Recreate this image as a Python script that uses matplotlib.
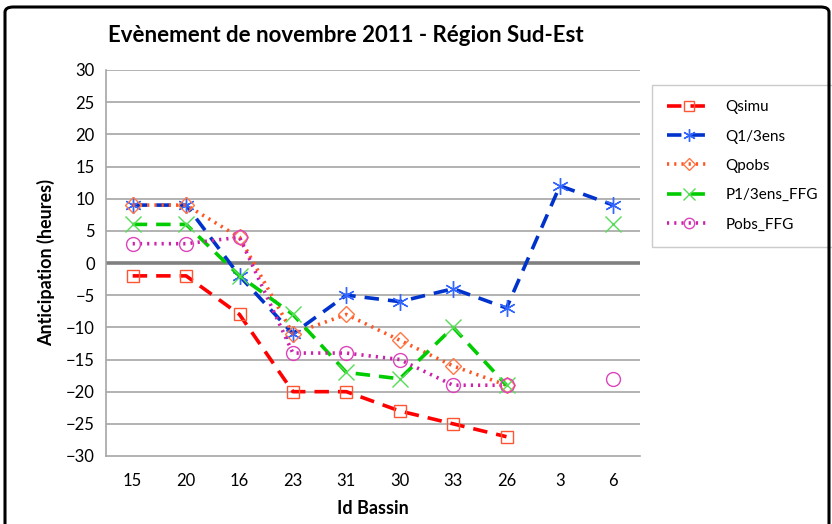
import numpy as np
import matplotlib
matplotlib.use("Agg")
import matplotlib.pyplot as plt
from matplotlib.patches import FancyBboxPatch

plt.rcParams['font.family'] = ['Lato', 'DejaVu Sans']

bassins = ["15", "20", "16", "23", "31", "30", "33", "26", "3", "6"]
nan = np.nan
qsimu = [-2, -2, -8, -20, -20, -23, -25, -27, nan, nan]
q13ens = [9, 9, -2, -11, -5, -6, -4, -7, 12, 9]
qpobs = [9, 9, 4, -11, -8, -12, -16, -19, nan, nan]
p13ens_ffg = [6, 6, -2, -8, -17, -18, -10, -19, nan, 6]
pobs_ffg = [3, 3, 4, -14, -14, -15, -19, -19, nan, -18]
y_ticks = list(range(-30, 35, 5))

fig = plt.figure(figsize=(8.32, 5.24), dpi=100)
ax = fig.add_axes([106 / 832, 1 - 456 / 524, 534 / 832, 386 / 524])

x = np.arange(len(bassins))

series = [
    ("Qsimu", qsimu, dict(color="#FF0000", ls=(0, (4, 2.5)), lw=2.6, marker="s", ms=9,
                          mfc="none", mec="#FF5533", mew=1.0)),
    ("Q1/3ens", q13ens, dict(color="#0033CC", ls=(0, (4, 2.5)), lw=2.6, marker=(6, 2, 0), ms=12,
                             mfc="none", mec="#3366FF", mew=1.0)),
    ("Qpobs", qpobs, dict(color="#FF5522", ls=(0, (0.6, 1.4)), lw=2.6, marker="D", ms=8,
                          mfc="none", mec="#FF7744", mew=1.0)),
    ("P1/3ens_FFG", p13ens_ffg, dict(color="#00CC00", ls=(0, (4, 2.5)), lw=2.6, marker="x", ms=11,
                                     mfc="none", mec="#55DD55", mew=1.0)),
    ("Pobs_FFG", pobs_ffg, dict(color="#CC22AA", ls=(0, (0.6, 1.4)), lw=2.6, marker="o", ms=10,
                                mfc="none", mec="#DD44BB", mew=1.0)),
]

for name, vals, style in series:
    ax.plot(x, vals, label=name, dash_capstyle="butt", **style)

ax.set_xlim(-0.5, len(bassins) - 0.5)
ax.set_ylim(-30, 30)
ax.set_yticks(y_ticks)
ax.set_xticks(x)
ax.set_xticklabels(bassins)
ax.tick_params(axis="both", length=0, labelsize=12, pad=8)
ax.tick_params(axis="x", pad=12)

for v in y_ticks:
    if v == 0:
        ax.axhline(v, color="#808080", lw=2.6, zorder=0.6)
    elif v != -30:
        ax.axhline(v, color="#A6A6A6", lw=1.2, zorder=0.5)

for s in ["top", "right"]:
    ax.spines[s].set_visible(False)
for s in ["left", "bottom"]:
    ax.spines[s].set_color("#A6A6A6")
    ax.spines[s].set_linewidth(1.2)

ax.set_ylabel("Anticipation (heures)", fontsize=13, fontweight="bold", labelpad=8)
ax.set_xlabel("Id Bassin", fontsize=13, fontweight="bold", labelpad=8)

fig.text(108 / 832, 1 - 35 / 524, "Evènement de novembre 2011 - Région Sud-Est",
         fontsize=16, fontweight="bold", va="center", ha="left")

leg = ax.legend(loc="upper left", bbox_to_anchor=(652 / 832, 1 - 85 / 524),
                bbox_transform=fig.transFigure, frameon=True, fancybox=False,
                fontsize=11, handlelength=2.8, labelspacing=1.0, borderpad=1.0,
                handletextpad=1.0, borderaxespad=0, markerscale=0.75)
leg.get_frame().set_edgecolor("#BFBFBF")
leg.get_frame().set_linewidth(1.0)

border = FancyBboxPatch((5 / 832, -0.05), 824 / 832, 1 - 7 / 524 + 0.05,
                        boxstyle="round,pad=0,rounding_size=0.01",
                        transform=fig.transFigure, fill=False, ec="black", lw=2.2)
fig.patches.append(border)

fig.savefig("out.png", dpi=100)
